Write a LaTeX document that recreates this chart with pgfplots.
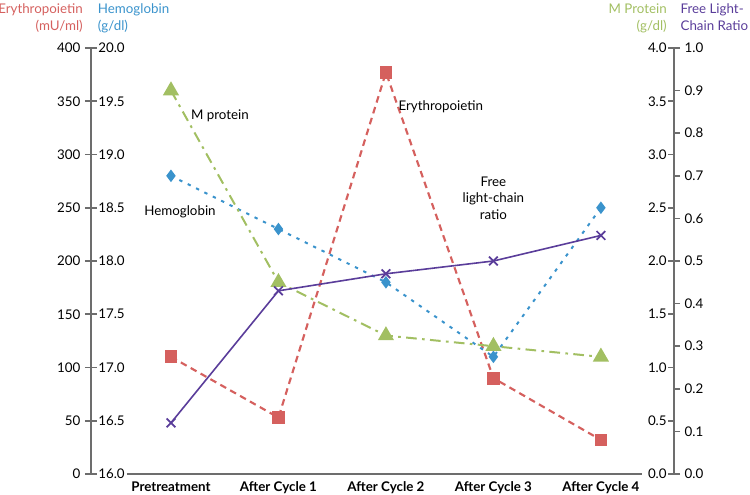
\documentclass[border=0pt]{standalone}
\usepackage{pgfplots}
\pgfplotsset{compat=1.18}
\usepackage{fontspec}
\setmainfont{Lato}
\definecolor{epo}{HTML}{D5605E}
\definecolor{hb}{HTML}{3A93CC}
\definecolor{mp}{HTML}{A2BF62}
\definecolor{flc}{HTML}{5A3D9A}
\definecolor{axgray}{HTML}{6D6D6D}
\pgfplotsset{
  base/.style={
    scale only axis, width=437.25pt, height=319.5pt,
    at={(0,0)}, anchor=south west,
    xmin=-0.744, xmax=4.68,
    /pgf/number format/assume math mode=true,
    tick label style={font=\fontsize{10}{12}\selectfont, text=black},
    axis line style={draw=axgray, line width=1.5pt},
    major tick style={draw=axgray, line width=1.2pt},
    major tick length=4.5pt,
    clip=false,
  }
}
\begin{document}
\begin{tikzpicture}
\useasboundingbox (-68.25pt,-15.75pt) rectangle (494.25pt,355.5pt);
% Erythropoietin axis
\begin{axis}[base,
  ymin=0, ymax=400, ytick={0,50,...,400},
  axis y line*=left, axis x line*=bottom,
  x axis line style={draw=none},
  xtick={0,1,2,3,4},
  xticklabels={Pretreatment,After Cycle 1,After Cycle 2,After Cycle 3,After Cycle 4},
  xticklabel style={font=\fontsize{10}{12}\selectfont\bfseries, yshift=2pt},
  xtick style={draw=none},
  y tick style={draw=axgray},
  tick align=outside,
]
\draw[axgray, line width=1.2pt] (axis cs:-0.41,0) -- (axis cs:4.38,0);
\addplot[epo, line width=1.6pt, dash pattern=on 5pt off 3.5pt, mark=square*, mark size=4pt, mark options={solid, fill=epo, draw=epo}]
  coordinates {(0,110) (1,53) (2,377) (3,90) (4,32)};
\node[font=\fontsize{10}{12}\selectfont] at (axis cs:0.456,336) {M protein};
\node[font=\fontsize{10}{12}\selectfont] at (axis cs:0.084,246) {Hemoglobin};
\node[font=\fontsize{10}{12}\selectfont] at (axis cs:2.51,344.6) {Erythropoietin};
\node[font=\fontsize{10}{12.5}\selectfont, align=center] at (axis cs:3.0,259) {Free\\light-chain\\ratio};
\end{axis}
% Hemoglobin axis
\begin{axis}[base,
  ymin=16, ymax=20, ytick={16,16.5,...,20},
  axis y line*=left, axis x line=none,
  tick align=inside,
  yticklabel style={anchor=west, xshift=2pt, /pgf/number format/.cd, fixed, fixed zerofill, precision=1},
]
\addplot[hb, line width=1.5pt, dash pattern=on 2.5pt off 4.5pt, mark=diamond*, mark size=3.5pt, mark options={solid, fill=hb, draw=hb}]
  coordinates {(0,18.8) (1,18.3) (2,17.8) (3,17.1) (4,18.5)};
\end{axis}
% M protein axis
\begin{axis}[base,
  ymin=0, ymax=4, ytick={0,0.5,...,4},
  axis y line*=right, axis x line=none,
  tick align=inside,
  yticklabel style={anchor=east, xshift=-2pt, /pgf/number format/.cd, fixed, fixed zerofill, precision=1},
]
\addplot[mp, line width=1.5pt, dash pattern=on 8pt off 4pt on 2pt off 4pt, mark=triangle*, mark size=5.5pt, mark options={solid, fill=mp, draw=mp}]
  coordinates {(0,3.6) (1,1.8) (2,1.3) (3,1.2) (4,1.1)};
\end{axis}
% FLC axis
\begin{axis}[base,
  ymin=0, ymax=1, ytick={0,0.1,...,1.0},
  axis y line*=right, axis x line=none,
  tick align=outside,
  yticklabel style={/pgf/number format/.cd, fixed, fixed zerofill, precision=1},
]
\addplot[flc, line width=1.2pt, mark=x, mark size=4.6pt, mark options={solid, line width=1.3pt}]
  coordinates {(0,0.12) (1,0.43) (2,0.47) (3,0.50) (4,0.56)};
\end{axis}
% headers
\node[anchor=north east, align=right, text=epo, font=\fontsize{10}{12.75}\selectfont, inner sep=0pt] at (-6pt,353pt) {Erythropoietin\\(mU/ml)};
\node[anchor=north west, align=left, text=hb, font=\fontsize{10}{12.75}\selectfont, inner sep=0pt] at (5pt,353pt) {Hemoglobin\\(g/dl)};
\node[anchor=north east, align=right, text=mp, font=\fontsize{10}{12.75}\selectfont, inner sep=0pt] at (432pt,353pt) {M Protein\\(g/dl)};
\node[anchor=north west, align=left, text=flc, font=\fontsize{10}{12.75}\selectfont, inner sep=0pt] at (442pt,353pt) {Free Light-\\Chain Ratio};
\end{tikzpicture}
\end{document}
